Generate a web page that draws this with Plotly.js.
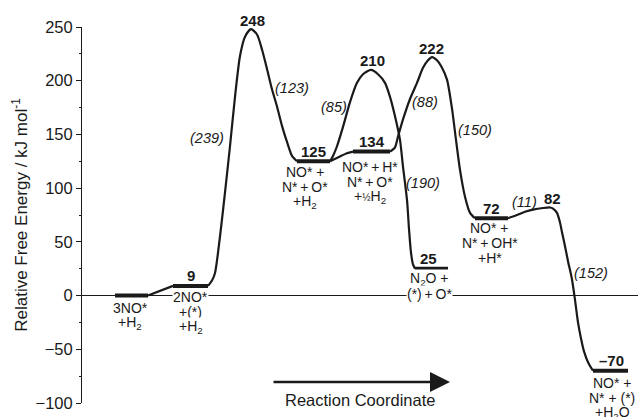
<!DOCTYPE html>
<html><head><meta charset="utf-8">
<script src="https://cdn.plot.ly/plotly-3.0.1.min.js"></script>
<style>html,body{margin:0;padding:0;background:#fff}</style>
</head><body><div id="chart" style="width:638px;height:417px"></div>
<script>
// ---------- DATA ----------
// intermediate levels (energy in kJ/mol, reaction-coordinate extent in arbitrary units)
const levelEnergy = [0, 9, 125, 134, 25, 72, -70];
const levelStart  = [3.3, 9.1, 21.5, 27.1, 33.3, 39.3, 51.1];
const levelEnd    = [6.6, 12.6, 24.8, 30.8, 36.6, 42.6, 54.6];
const levelValueText = ['', '9', '125', '134', '25', '72', '\u201370'];
const speciesLines = [
  ['3NO*', '+H<sub>2</sub>'],
  ['2NO*', '+(*)', '+H<sub>2</sub>'],
  ['NO* +', 'N*\u2009+\u2009O*', '+H<sub>2</sub>'],
  ['NO*\u2009+\u2009H*', 'N*\u2009+\u2009O*', '+<span style="font-size:10px">\u00bd</span>H<sub>2</sub>'],
  ['N<sub>2</sub>O +', '(*)\u2009+\u2009O*'],
  ['NO* +', 'N*\u2009+\u2009OH*', '+H*'],
  ['NO* +', 'N* + (*)', '+H<sub>2</sub>O']
];

// connecting paths
const path01X = [6.6, 9.1];
const path01E = [0, 9];

const ts1X = [12.6, 13.0, 13.3, 13.8, 14.3, 14.8, 15.3, 15.8, 16.3, 16.9, 17.5, 18.0, 18.5, 19.0, 19.5, 20.0, 20.5, 21.0, 21.5];
const ts1E = [9, 14, 21, 55, 96, 139, 185, 223, 241, 248, 243, 229, 211, 192, 176, 158, 143, 130, 125];

const ts2X = [24.8, 25.1, 25.5, 26.1, 26.8, 27.5, 28.1, 28.9, 29.6, 30.3, 30.8, 31.3, 31.8, 32.1, 32.5, 32.7, 32.9, 33.1, 33.3];
const ts2E = [125, 130, 139, 157, 180, 198, 206, 210, 206, 198, 185, 167, 145, 120, 89, 62, 40, 29, 25];

const path23X = [24.8, 25.8, 26.5, 27.1];
const path23E = [125, 129.5, 132.5, 134];

const ts3X = [30.8, 31.3, 31.6, 32.1, 32.8, 33.5, 34.1, 34.6, 35.0, 35.5, 36.0, 36.5, 37.0, 37.4, 37.8, 38.3, 38.8, 39.3];
const ts3E = [134, 138, 148, 164, 183, 198, 212, 219, 222, 219, 212, 201, 174, 145, 117, 92, 77, 72];

const ts4X = [42.6, 43.5, 44.3, 45.1, 46.1, 46.8, 47.1, 47.5, 47.8, 48.0, 48.3, 48.6, 49.0, 49.3, 49.6, 49.9, 50.2, 50.6, 51.1];
const ts4E = [72, 75, 78, 80, 81.5, 82, 81, 77, 68, 59, 46, 32, 15, -4, -25, -40, -52, -62, -70];

const barrierValues = [239, 123, 85, 88, 150, 190, 11, 152];

// ---------- DRAW ----------
const ink = '#1a1a1a';
const font = 'Liberation Sans, Arial, Helvetica, sans-serif';
const traces = [];
for (let i = 0; i < levelEnergy.length; i++) {
  traces.push({type:'scatter', mode:'lines', x:[levelStart[i], levelEnd[i]], y:[levelEnergy[i], levelEnergy[i]],
    line:{color:ink, width:4}, hoverinfo:'skip', cliponaxis:false});
}
const curves = [[path01X, path01E], [ts1X, ts1E], [ts2X, ts2E], [path23X, path23E], [ts3X, ts3E], [ts4X, ts4E]];
curves.forEach(([cx, cy]) => traces.push({type:'scatter', mode:'lines', x:cx, y:cy,
  line:{color:ink, width:2.2, shape:'spline', smoothing:0.7}, hoverinfo:'skip', cliponaxis:false}));

const ann = [];
// level values
const valShiftX = [0, 0, 0, 0, -3, 0, 1];
for (let i = 1; i < levelEnergy.length; i++) {
  ann.push({x:(levelStart[i]+levelEnd[i])/2, y:levelEnergy[i], xref:'x', yref:'y', text:'<b>'+levelValueText[i]+'</b>',
    showarrow:false, yanchor:'middle', yshift:10, xshift:valShiftX[i], font:{family:font, size:15, color:ink}});
}
// peak values
[[ts1X, ts1E], [ts2X, ts2E], [ts3X, ts3E], [ts4X, ts4E]].forEach(([cx, cy], k) => {
  let m = 0; cy.forEach((v, j) => { if (v > cy[m]) m = j; });
  ann.push({x:cx[m], y:cy[m], xref:'x', yref:'y', text:'<b>'+cy[m]+'</b>', showarrow:false, yanchor:'middle',
    yshift:9, xshift:[1, 1, -1, 2][k], font:{family:font, size:15, color:ink}});
});
// species labels
const spFirst = [12, 11, 10.5, 15, 10, 10, 12];
const spShiftX = [-1.5, 0, -8.5, -1.5, -2.5, -2, 1.5];
speciesLines.forEach((lines, i) => {
  lines.forEach((t, j) => {
    ann.push({x:(levelStart[i]+levelEnd[i])/2, y:levelEnergy[i], xref:'x', yref:'y', text:t, showarrow:false,
      yanchor:'middle', yshift:-(spFirst[i] + j*15), xshift:spShiftX[i],
      bgcolor:(i === 1 || i === 4) ? 'white' : 'rgba(0,0,0,0)', borderpad:0,
      font:{family:font, size:14, color:ink}});
  });
});
// barrier labels (positions in reaction coordinate / energy space)
const barrierPos = [[12.5, 147], [21.0, 193], [25.2, 176], [34.3, 180], [39.3, 154], [34.1, 105], [44.2, 87], [50.9, 21]];
barrierValues.forEach((v, i) => {
  ann.push({x:barrierPos[i][0], y:barrierPos[i][1], xref:'x', yref:'y', text:'<i>('+v+')</i>', showarrow:false,
    font:{family:font, size:14.5, color:ink}});
});
// reaction coordinate arrow
ann.push({x:36.8, y:-80.4, ax:19.0, ay:-80.4, xref:'x', yref:'y', axref:'x', ayref:'y', text:'', showarrow:true,
  arrowhead:2, arrowsize:1.6, arrowwidth:2.5, arrowcolor:ink});
ann.push({x:27.8, y:-97, xref:'x', yref:'y', text:'Reaction Coordinate', showarrow:false,
  font:{family:font, size:16.5, color:ink}});

const layout = {
  width:638, height:417, margin:{l:82, r:0, t:27, b:14},
  paper_bgcolor:'white', plot_bgcolor:'white', showlegend:false,
  xaxis:{range:[0, 55.6], showgrid:false, zeroline:false, showline:false, showticklabels:false, ticks:'', fixedrange:true},
  yaxis:{range:[-100, 250], tick0:0, dtick:50, ticks:'outside', ticklen:5, tickwidth:1, tickcolor:ink,
    showline:true, linecolor:ink, linewidth:1, showgrid:false,
    zeroline:true, zerolinecolor:ink, zerolinewidth:1,
    minor:{dtick:25, ticks:'outside', ticklen:2.5, tickcolor:ink, showgrid:false},
    tickfont:{family:font, size:16.5, color:ink}, ticklabelstandoff:0, automargin:false,
    title:{text:'Relative Free Energy / kJ mol<sup>-1</sup>', font:{family:font, size:17, color:ink}, standoff:3}},
  annotations:ann
};
Plotly.newPlot('chart', traces, layout, {displayModeBar:false, staticPlot:true});
</script></body></html>
